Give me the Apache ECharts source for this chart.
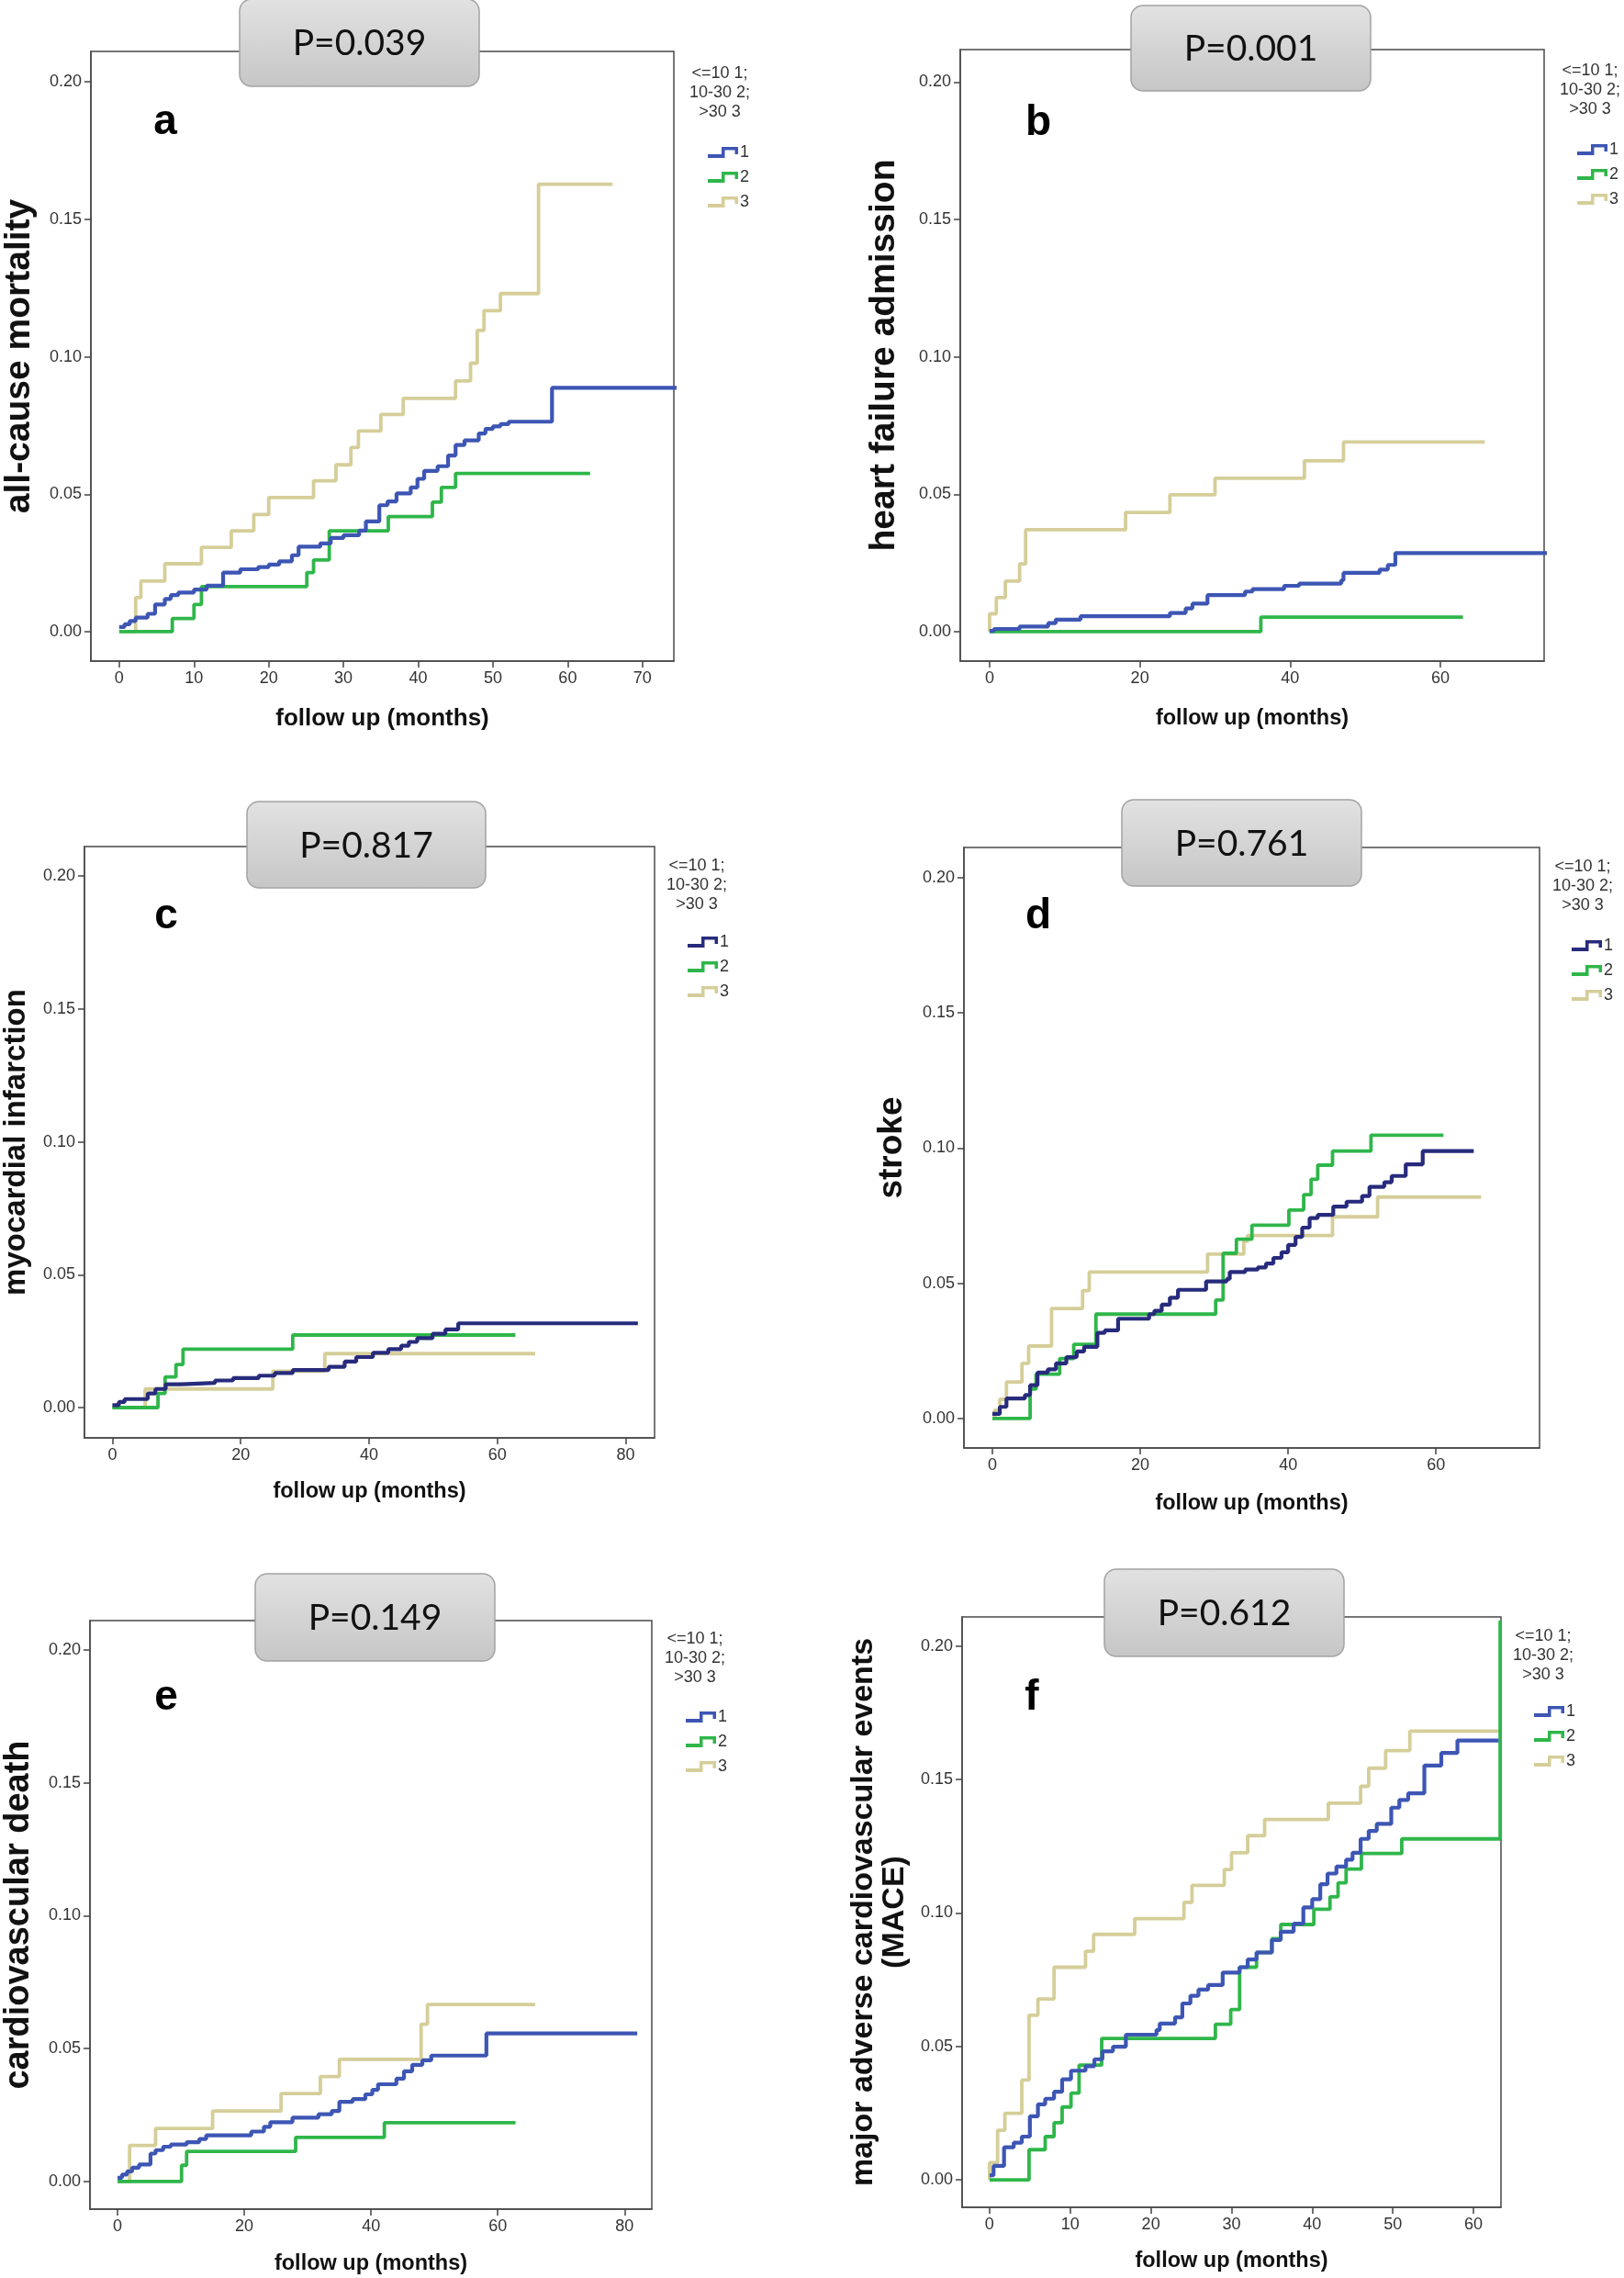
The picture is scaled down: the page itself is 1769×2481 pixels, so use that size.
<!DOCTYPE html>
<html><head><meta charset="utf-8">
<script src="https://cdn.jsdelivr.net/npm/echarts@6/dist/echarts.min.js"></script>
<style>html,body{margin:0;padding:0;background:#fff}#c{width:1769px;height:2481px}</style>
</head><body><div id="c"></div>
<script>
// ---------------- DATA ----------------
const groupNames = ['1', '2', '3'];
const legendHeader = '<=10 1;\n10-30 2;\n>30 3';
const pValues = ['P=0.039', 'P=0.001', 'P=0.817', 'P=0.761', 'P=0.149', 'P=0.612'];
const panelLetters = ['a', 'b', 'c', 'd', 'e', 'f'];
const yTitles = ['all-cause mortality', 'heart failure admission', 'myocardial infarction', 'stroke',
  'cardiovascular death', 'major adverse cardiovascular events\n(MACE)'];
const xTitle = 'follow up (months)';
const yTicks = [0, 0.05, 0.10, 0.15, 0.20];
const xTicksA = [0, 10, 20, 30, 40, 50, 60, 70];
const xTicksB = [0, 20, 40, 60];
const xTicksC = [0, 20, 40, 60, 80];
const xTicksD = [0, 20, 40, 60];
const xTicksE = [0, 20, 40, 60, 80];
const xTicksF = [0, 10, 20, 30, 40, 50, 60];

// panel a: all-cause mortality
const a1 = [[0,0.0017],[0.7,0.0027],[1.4,0.0039],[2.2,0.0051],[3.8,0.0065],[4.8,0.0099],[6.1,0.0119],[6.9,0.0133],[7.9,0.0142],[10.0,0.0153],[11.7,0.0167],[13.9,0.0215],[16.2,0.0227],[18.6,0.0235],[20.0,0.0244],[21.4,0.0256],[23.1,0.0278],[24.0,0.0309],[26.9,0.0321],[28.3,0.0341],[30.0,0.0351],[32.1,0.0368],[33.0,0.0401],[34.8,0.0460],[35.9,0.0474],[37.1,0.0503],[39.0,0.0525],[39.9,0.0556],[40.8,0.0585],[42.6,0.0602],[44.0,0.0641],[45.0,0.0679],[46.2,0.0696],[48.1,0.0721],[49.0,0.0738],[50.0,0.0747],[51.0,0.0755],[52.1,0.0764],[57.9,0.0887],[76,0.0887]];
const a2 = [[0,0],[7.1,0.0048],[10.0,0.0099],[11.0,0.0164],[25.1,0.0215],[26.0,0.0261],[28.1,0.0367],[36.0,0.0419],[41.9,0.0471],[43.1,0.0525],[45.0,0.0576],[63.0,0.0576]];
const a3 = [[0,0],[2.2,0.0124],[2.9,0.0184],[6.1,0.0247],[11.0,0.0307],[15.0,0.0367],[18.0,0.0426],[20.0,0.0488],[26.0,0.0549],[29.0,0.0607],[31.0,0.0670],[32.0,0.0730],[35.0,0.0790],[38.0,0.0849],[45.0,0.0912],[47.0,0.0977],[47.9,0.1096],[48.8,0.1168],[51.0,0.1230],[56.1,0.1628],[66.0,0.1628]];
// panel b: heart failure admission
const b1 = [[0,0.0003],[0.6,0.0010],[4.0,0.0019],[7.8,0.0031],[8.8,0.0044],[12.1,0.0056],[24.0,0.0068],[26.1,0.0085],[27.0,0.0102],[29.0,0.0133],[34.0,0.0146],[35.0,0.0155],[39.2,0.0167],[41.2,0.0175],[46.8,0.0187],[47.1,0.0214],[51.9,0.0226],[53.0,0.0243],[54.0,0.0286],[76,0.0286]];
const b2 = [[0,0],[36.1,0.0053],[63.0,0.0053]];
const b3 = [[0,0],[0,0.0065],[0.9,0.0124],[2.1,0.0184],[4.0,0.0247],[4.8,0.0371],[18.1,0.0434],[24.0,0.0498],[30.0,0.0558],[41.9,0.0622],[47.1,0.0690],[65.9,0.0690]];
// panel c: myocardial infarction
const c1 = [[0,0.0009],[1.0,0.0021],[1.9,0.0032],[5.5,0.0053],[6.7,0.0070],[8.3,0.0088],[10.7,0.0093],[16.0,0.0102],[18.8,0.0111],[22.8,0.0120],[25.3,0.0130],[28.1,0.0141],[33.7,0.0153],[36.2,0.0173],[38.0,0.0190],[40.6,0.0206],[43.0,0.0220],[45.0,0.0233],[46.2,0.0247],[47.5,0.0261],[49.9,0.0278],[51.9,0.0294],[53.9,0.0317],[81.9,0.0317]];
const c2 = [[0,0],[7.1,0.0053],[8.2,0.0115],[9.9,0.0162],[11.0,0.0220],[28.1,0.0273],[62.8,0.0273]];
const c3 = [[0,0],[5.1,0.0070],[25.0,0.0137],[33.1,0.0203],[65.9,0.0203]];
// panel d: stroke
const d1 = [[0,0.0017],[1.0,0.0043],[1.9,0.0074],[4.4,0.0087],[5.1,0.0123],[6.1,0.0170],[7.5,0.0182],[8.6,0.0204],[10.0,0.0227],[11.4,0.0248],[12.4,0.0265],[14.2,0.0317],[15.2,0.0326],[17.0,0.0369],[21.2,0.0386],[21.9,0.0398],[22.9,0.0421],[24.0,0.0447],[25.1,0.0476],[28.9,0.0507],[31.7,0.0516],[32.1,0.0542],[34.2,0.0551],[35.9,0.0559],[37.0,0.0573],[38.0,0.0594],[39.1,0.0615],[40.0,0.0642],[41.0,0.0672],[41.9,0.0706],[42.9,0.0741],[44.0,0.0753],[46.1,0.0784],[47.9,0.0802],[50.0,0.0823],[51.0,0.0857],[53.0,0.0874],[54.0,0.0897],[55.9,0.0940],[58.2,0.0989],[65.1,0.0989]];
const d2 = [[0,0],[5.1,0.0109],[5.9,0.0164],[9.1,0.0222],[11.0,0.0274],[14.0,0.0386],[30.2,0.0438],[31.2,0.0611],[33.0,0.0663],[35.1,0.0715],[40.1,0.0771],[42.1,0.0828],[43.1,0.0885],[44.0,0.0937],[46.0,0.0989],[51.2,0.1048],[61.0,0.1048]];
const d3 = [[0,0],[0.3,0.0031],[1.0,0.0071],[1.9,0.0135],[4.0,0.0204],[4.9,0.0268],[8.0,0.0407],[12.2,0.0473],[13.1,0.0542],[29.1,0.0608],[34.0,0.0655],[34.5,0.0677],[46.0,0.0746],[52.1,0.0819],[66.1,0.0819]];
// panel e: cardiovascular death
const e1 = [[0,0.0014],[0.7,0.0026],[1.5,0.0038],[2.3,0.0052],[3.4,0.0064],[5.2,0.0105],[6.0,0.0118],[7.2,0.0131],[8.4,0.0139],[10.9,0.0148],[12.9,0.0160],[14.0,0.0174],[21.1,0.0188],[23.1,0.0206],[24.1,0.0223],[27.6,0.0240],[31.7,0.0253],[33.8,0.0265],[35.0,0.0300],[37.1,0.0310],[39.1,0.0328],[40.2,0.0345],[41.1,0.0366],[44.0,0.0387],[45.2,0.0415],[46.5,0.0439],[48.1,0.0456],[49.5,0.0474],[58.2,0.0557],[82.0,0.0557]];
const e2 = [[0,0],[10.1,0.0061],[10.9,0.0113],[28.1,0.0166],[42.1,0.0221],[62.8,0.0221]];
const e3 = [[0,0],[1.9,0.0136],[6.0,0.0200],[15.0,0.0265],[25.8,0.0331],[32.0,0.0395],[35.0,0.0460],[47.9,0.0592],[48.9,0.0666],[65.9,0.0666]];
// panel f: MACE
const f1 = [[0,0.0017],[0.5,0.0052],[1.8,0.0122],[3.0,0.0139],[4.0,0.0162],[5.0,0.0238],[6.0,0.0283],[6.9,0.0304],[8.0,0.0330],[9.0,0.0377],[10.1,0.0409],[11.9,0.0426],[13.0,0.0452],[14.0,0.0482],[15.3,0.0499],[16.9,0.0544],[20.7,0.0562],[21.1,0.0586],[23.0,0.0609],[23.9,0.0661],[24.9,0.0690],[25.9,0.0713],[27.1,0.0730],[28.9,0.0777],[31.0,0.0797],[32.0,0.0826],[33.1,0.0852],[35.0,0.0899],[36.1,0.0930],[37.7,0.0960],[38.9,0.1021],[40.0,0.1052],[41.0,0.1108],[41.9,0.1148],[43.0,0.1174],[44.2,0.1200],[45.0,0.1226],[46.0,0.1278],[47.0,0.1308],[48.0,0.1334],[49.8,0.1395],[50.8,0.1424],[51.9,0.1449],[53.9,0.1553],[56.0,0.1600],[58.0,0.1647],[63.1,0.1647]];
const f2 = [[0,0],[4.9,0.0113],[6.9,0.0162],[8.0,0.0214],[9.0,0.0273],[10.1,0.0325],[11.1,0.0430],[13.9,0.0530],[28.0,0.0583],[29.9,0.0638],[31.0,0.0797],[33.1,0.0852],[35.0,0.0904],[36.1,0.0957],[40.2,0.1014],[42.2,0.1061],[43.2,0.1113],[44.2,0.1165],[46.1,0.1223],[51.1,0.1278],[63.3,0.2096]];
const f3 = [[0,0],[0,0.0064],[1.0,0.0186],[1.9,0.0249],[4.0,0.0374],[4.9,0.0617],[6.0,0.0678],[8.0,0.0797],[11.9,0.0857],[12.9,0.0920],[18.0,0.0979],[24.1,0.1040],[25.1,0.1104],[29.1,0.1163],[30.0,0.1226],[32.0,0.1290],[34.1,0.1351],[42.0,0.1412],[46.0,0.1475],[47.0,0.1543],[49.1,0.1609],[52.1,0.1682],[63.4,0.1682]];

// ---------------- LAYOUT / STYLE ----------------
const FONT = '"Liberation Sans", Arial, sans-serif';
const BLUE = '#3d56b4', NAVY = '#272b7c', GREEN = '#2fb64a', TAN = '#d5ce99';
const panels = [
  {data:[a1,a2,a3], c1:BLUE, grid:[99,56,635,664], xr:[-3.79,74.2], xt:xTicksA, yr:[-0.0107,0.2111],
   yFont:39, yGap:58, xFont:26, xGap:49, pbox:[261,-1,261,95], letter:[180,133], head:[784,70], leg:[766,152]},
  {data:[b1,b2,b3], c1:BLUE, grid:[1046,54,636,666], xr:[-3.9,73.8], xt:xTicksB, yr:[-0.0107,0.2118],
   yFont:39, yGap:63, xFont:23.5, xGap:49, pbox:[1232,6,261,93], letter:[1131,134], head:[1732,67], leg:[1713,149]},
  {data:[c1,c2,c3], c1:NAVY, grid:[92,922,621,644], xr:[-4.36,84.5], xt:xTicksC, yr:[-0.0114,0.2111],
   yFont:33, yGap:57, xFont:23.5, xGap:45, pbox:[269,873,260,94], letter:[181,998], head:[759,933], leg:[744,1012]},
  {data:[d1,d2,d3], c1:NAVY, grid:[1050,923,627,654], xr:[-3.85,74.0], xt:xTicksD, yr:[-0.0109,0.2112],
   yFont:37, yGap:59, xFont:23.5, xGap:47, pbox:[1222,871,261,94], letter:[1131,998], head:[1724,934], leg:[1707,1016]},
  {data:[e1,e2,e3], c1:BLUE, grid:[98,1765,612,641], xr:[-4.35,84.3], xt:xTicksE, yr:[-0.0104,0.2111],
   yFont:38, yGap:58, xFont:23.5, xGap:46, pbox:[278,1714,261,95], letter:[181,1849], head:[757,1775], leg:[742,1856]},
  {data:[f1,f2,f3], c1:BLUE, grid:[1048,1761,587,643], xr:[-3.4,63.4], xt:xTicksF, yr:[-0.0103,0.2110],
   yFont:34, yGap:56, xFont:23.5, xGap:45, pbox:[1203,1709,261,95], letter:[1124,1849], head:[1681,1772], leg:[1666,1850]}
];

const ICON = 'path://M0,8L15,8L15,0L33,0L33,8L29.5,8L29.5,3.5L18.5,3.5L18.5,12L0,12Z';

const option = {
  backgroundColor: '#ffffff',
  animation: false,
  grid: [], xAxis: [], yAxis: [], series: [], legend: [], graphic: []
};

panels.forEach((p, i) => {
  const [gl, gt, gw, gh] = p.grid;
  option.grid.push({left: gl, top: gt, width: gw, height: gh, show: true, borderColor: '#4a4a4a', borderWidth: 1.5,
    backgroundColor: 'transparent', containLabel: false, outerBoundsMode: 'none'});
  option.xAxis.push({
    gridIndex: i, type: 'value', min: p.xr[0], max: p.xr[1], position: 'bottom',
    axisLine: {show: true, onZero: false, lineStyle: {color: '#4a4a4a', width: 1.5}}, splitLine: {show: false},
    axisTick: {show: true, inside: false, length: 7, customValues: p.xt, lineStyle: {color: '#444', width: 1.5}},
    axisLabel: {customValues: p.xt, fontSize: 18, color: '#333', fontFamily: FONT, margin: 10},
    name: xTitle, nameLocation: 'middle', nameGap: p.xGap, nameMoveOverlap: false,
    nameTextStyle: {fontSize: p.xFont, fontWeight: 'bold', color: '#111', fontFamily: FONT, lineHeight: 28}
  });
  option.yAxis.push({
    gridIndex: i, type: 'value', min: p.yr[0], max: p.yr[1], position: 'left',
    axisLine: {show: true, onZero: false, lineStyle: {color: '#4a4a4a', width: 1.5}}, splitLine: {show: false},
    axisTick: {show: true, inside: false, length: 7, customValues: yTicks, lineStyle: {color: '#444', width: 1.5}},
    axisLabel: {customValues: yTicks, formatter: v => v.toFixed(2), fontSize: 18, color: '#333', fontFamily: FONT, margin: 10},
    name: yTitles[i], nameLocation: 'middle', nameGap: p.yGap, nameMoveOverlap: false,
    nameTextStyle: {fontSize: p.yFont, fontWeight: 'bold', color: '#111', fontFamily: FONT, lineHeight: i === 5 ? 34 : p.yFont + 1}
  });
  const colors = [p.c1, GREEN, TAN];
  const names = groupNames.map(g => panelLetters[i] + g);
  p.data.forEach((d, k) => {
    option.series.push({
      type: 'line', name: names[k], xAxisIndex: i, yAxisIndex: i, data: d,
      step: 'end', showSymbol: false, symbol: 'none', clip: true, silent: true,
      color: colors[k], lineStyle: {width: k === 0 ? 4.2 : 3.8, color: colors[k]},
      z: 3 + (2 - k)
    });
  });
  option.legend.push({
    left: p.leg[0], top: p.leg[1], orient: 'vertical', itemWidth: 33, itemHeight: 12, itemGap: 9,
    icon: ICON, data: names, selectedMode: false,
    formatter: n => n.slice(1),
    itemStyle: {borderWidth: 0},
    textStyle: {fontSize: 18, color: '#333', fontFamily: FONT, padding: [0, 0, 0, -3]}
  });
  // legend header
  option.graphic.push({
    type: 'text', x: p.head[0], y: p.head[1], z: 50,
    style: {text: legendHeader, font: '18px ' + FONT, fill: '#333', align: 'center', verticalAlign: 'top', lineHeight: 21}
  });
  // panel letter
  option.graphic.push({
    type: 'text', x: p.letter[0], y: p.letter[1], z: 50,
    style: {text: panelLetters[i], font: 'bold 46px ' + FONT, fill: '#000', align: 'center', verticalAlign: 'middle'}
  });
  // P-value box
  const [bx, by, bw, bh] = p.pbox;
  option.graphic.push({
    type: 'group', z: 100, children: [
      {type: 'rect', shape: {x: bx, y: by, width: bw, height: bh, r: 13}, z: 100,
       style: {fill: new echarts.graphic.LinearGradient(0, 0, 0, 1, [{offset: 0, color: '#e2e2e2'}, {offset: 1, color: '#c6c6c6'}]),
               stroke: '#a3a3a3', lineWidth: 1.5}},
      {type: 'text', x: bx + bw / 2, y: by + bh / 2 + 1, z: 101,
       style: {text: pValues[i], font: '39px Lato, ' + FONT, fill: '#111', align: 'center', verticalAlign: 'middle'}}
    ]
  });
});

const chart = echarts.init(document.getElementById('c'), null, {renderer: 'canvas', width: 1769, height: 2481});
chart.setOption(option);
</script>
</body></html>
